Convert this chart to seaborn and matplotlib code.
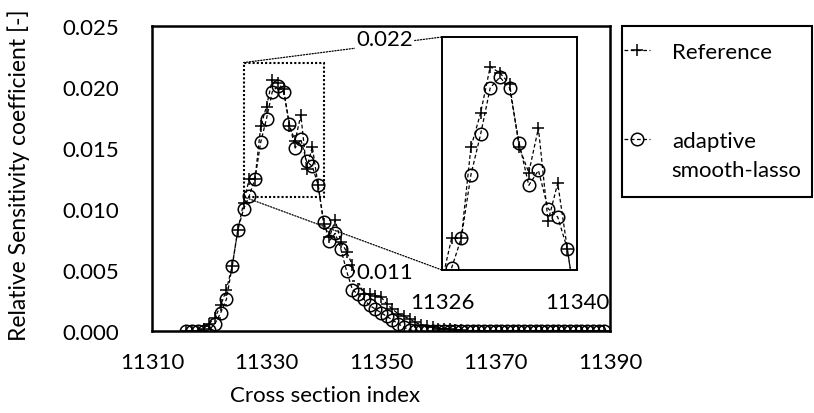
import numpy as np
import pandas as pd
import matplotlib
matplotlib.use("Agg")
import matplotlib.pyplot as plt
import seaborn as sns
from matplotlib.patches import Rectangle, ConnectionPatch
from matplotlib.ticker import FormatStrFormatter

# ---------------- data ----------------
cross_section = list(range(11316, 11390))

reference = [
    0.0, 0.0, 0.0, 0.0002, 0.0006, 0.0011, 0.0021, 0.0034, 0.0053, 0.0083,   # 11316-11325
    0.0105, 0.0125, 0.0125, 0.0168, 0.0184, 0.0206, 0.0203, 0.0198, 0.0168, 0.0156,  # 11326-11335
    0.0177, 0.0133, 0.0151, 0.0120, 0.0088, 0.0077, 0.0091, 0.0073, 0.0065, 0.0054,  # 11336-11345
    0.0041, 0.0030, 0.0030, 0.0029, 0.0028, 0.0022, 0.0018, 0.0014, 0.0012, 0.0010,  # 11346-11355
    0.0007, 0.0005, 0.0004, 0.0003, 0.0002, 0.0002, 0.0002, 0.0001, 0.0001, 0.0,     # 11356-11365
    0.0, 0.0, 0.0, 0.0, 0.0, 0.0, 0.0, 0.0, 0.0, 0.0,                                 # 11366-11375
    0.0, 0.0, 0.0, 0.0, 0.0, 0.0, 0.0, 0.0, 0.0, 0.0,                                 # 11376-11385
    0.0, 0.0, 0.0, 0.0,                                                               # 11386-11389
]

adaptive = [
    0.0, 0.0, 0.0, 0.0, 0.0001, 0.0006, 0.0015, 0.0026, 0.0053, 0.0083,   # 11316-11325
    0.0100, 0.0111, 0.0125, 0.0155, 0.0174, 0.0196, 0.0201, 0.0196, 0.0170, 0.0150,  # 11326-11335
    0.0157, 0.0139, 0.0135, 0.0120, 0.0089, 0.0074, 0.0080, 0.0067, 0.0049, 0.0034,  # 11336-11345
    0.0030, 0.0026, 0.0021, 0.0018, 0.0015, 0.0012, 0.0009, 0.0006, 0.0003, 0.0001,  # 11346-11355
    0.0, 0.0, 0.0, 0.0, 0.0, 0.0, 0.0, 0.0, 0.0, 0.0,                                 # 11356-11365
    0.0, 0.0, 0.0, 0.0, 0.0, 0.0, 0.0, 0.0, 0.0, 0.0,                                 # 11366-11375
    0.0, 0.0, 0.0, 0.0, 0.0, 0.0, 0.0, 0.0, 0.0, 0.0,                                 # 11376-11385
    0.0, 0.0, 0.0, 0.0,                                                               # 11386-11389
]

series_labels = ["Reference", "adaptive\nsmooth-lasso"]
x_ticks = [11310, 11330, 11350, 11370, 11390]
y_ticks = [0.000, 0.005, 0.010, 0.015, 0.020, 0.025]
zoom_x = [11326, 11340]
zoom_y = [0.011, 0.022]

df = pd.DataFrame({"x": cross_section, "ref": reference, "ada": adaptive})

# ---------------- style ----------------
sns.set_theme(style="white")
plt.rcParams["font.family"] = ["Lato", "DejaVu Sans"]
plt.rcParams["axes.edgecolor"] = "black"
plt.rcParams["axes.labelcolor"] = "black"
plt.rcParams["text.color"] = "black"
plt.rcParams["xtick.color"] = "black"
plt.rcParams["ytick.color"] = "black"

FS = 16
W, H = 814, 414
fig = plt.figure(figsize=(W / 100, H / 100), dpi=100)


def fx(px):
    return px / W


def fy(py):
    return 1 - py / H


ax = fig.add_axes([fx(152), fy(332), (610 - 152) / W, (332 - 27) / H])

dash = (0, (3, 2))
common = dict(color="black", linewidth=0.9, linestyle=dash,
              markersize=9, markeredgewidth=1.1, markeredgecolor="black",
              legend=False)

sns.lineplot(data=df, x="x", y="ref", ax=ax, marker="+", label=series_labels[0],
             **common)
sns.lineplot(data=df, x="x", y="ada", ax=ax, marker="o", markerfacecolor="none",
             label=series_labels[1], **common)

ax.set_xlim(x_ticks[0], x_ticks[-1])
ax.set_ylim(y_ticks[0], y_ticks[-1])
ax.set_xticks(x_ticks)
ax.set_yticks(y_ticks)
ax.yaxis.set_major_formatter(FormatStrFormatter("%.3f"))
ax.tick_params(axis="both", direction="in", length=7, width=1.3, labelsize=FS)
ax.tick_params(axis="y", pad=24)
ax.tick_params(axis="x", pad=15)
for s in ax.spines.values():
    s.set_linewidth(1.8)
    s.set_color("black")

ax.set_xlabel("Cross section index", fontsize=FS, color="black")
ax.set_ylabel("Relative Sensitivity coefficient [-]", fontsize=16.5, color="black")
ax.xaxis.set_label_coords((325 - 152) / 458, (332 - 386) / 305)
ax.yaxis.set_label_coords((30 - 152) / 458, 0.515)

# zoom rectangle on the main axes
ax.add_patch(Rectangle((zoom_x[0], zoom_y[0]), zoom_x[1] - zoom_x[0], zoom_y[1] - zoom_y[0],
                       fill=False, edgecolor="black", linewidth=1.5,
                       linestyle=(0, (1, 1)), zorder=1))

# ---------------- inset ----------------
ins = fig.add_axes([fx(442), fy(271), (577 - 442) / W, (271 - 38) / H])
ins.set_facecolor("white")
sns.lineplot(data=df, x="x", y="ref", ax=ins, marker="+", **common)
sns.lineplot(data=df, x="x", y="ada", ax=ins, marker="o", markerfacecolor="none", **common)
ins.set_xlim(zoom_x)
ins.set_ylim(zoom_y)
ins.set_xticks(zoom_x)
ins.set_yticks(zoom_y)
ins.yaxis.set_major_formatter(FormatStrFormatter("%.3f"))
ins.tick_params(axis="both", length=0, labelsize=FS)
ins.tick_params(axis="x", pad=16)
ins.tick_params(axis="y", pad=21)
ins.set_xlabel("")
ins.set_ylabel("")
for s in ins.spines.values():
    s.set_linewidth(1.4)
    s.set_color("black")
for t in ins.get_yticklabels():
    t.set_bbox(dict(facecolor="white", edgecolor="none", pad=1))

for ya, yb in [(zoom_y[1], 1), (zoom_y[0], 0)]:
    con = ConnectionPatch(xyA=(zoom_x[0], ya), coordsA=ax.transData,
                          xyB=(0, yb), coordsB=ins.transAxes,
                          linestyle=(0, (1, 1.3)), linewidth=0.9, color="black",
                          zorder=0.5)
    ins.add_artist(con)
    con.set_clip_on(False)

# ---------------- legend ----------------
handles = ax.get_lines()[:2]
leg = fig.legend(handles, series_labels, loc="upper left",
                 bbox_to_anchor=(fx(624), fy(43)), frameon=False,
                 fontsize=FS, handlelength=1.15, handletextpad=1.0,
                 labelspacing=3.1, borderpad=0, borderaxespad=0)
for col in leg._legend_handle_box.get_children():
    for item in col.get_children():
        item.align = "top"
for t in leg.get_texts():
    t.set_linespacing(1.55)
    t.set_color("black")

fig.add_artist(Rectangle((fx(622), fy(198)), (812 - 622) / W, (198 - 27) / H,
                         transform=fig.transFigure, fill=False,
                         edgecolor="black", linewidth=1.5))

fig.savefig("out.png", dpi=100)
